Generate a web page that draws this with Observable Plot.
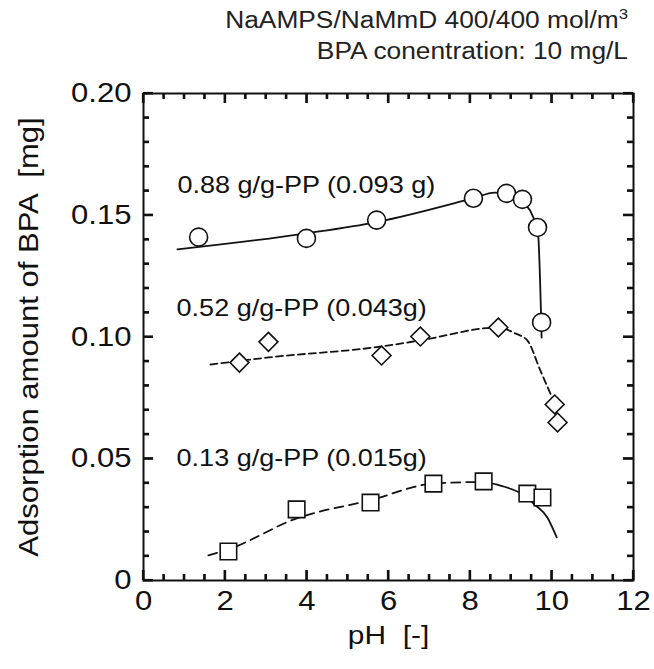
<!DOCTYPE html>
<html><head><meta charset="utf-8">
<script src="https://cdn.jsdelivr.net/npm/d3@7"></script>
<script src="https://cdn.jsdelivr.net/npm/@observablehq/plot@0.6"></script>
<style>
body{margin:0;background:#fff;font-family:"Liberation Sans",Arial,sans-serif;}
#title{width:654px;height:67px;box-sizing:border-box;padding:5px 26px 0 0;text-align:right;font-size:23.5px;line-height:31px;color:#222;}
#title div{transform:scaleX(1.12);transform-origin:right center;}
#title sup{font-size:15px;line-height:0;vertical-align:9px;}
</style></head><body>
<div id="title"><div>NaAMPS/NaMmD 400/400 mol/m<sup>3</sup></div><div>BPA conentration: 10 mg/L</div></div>
<div id="chart"></div>
<script>
// ---- data ----
const circlePH  = [1.35, 3.99, 5.71, 8.08, 8.89, 9.28, 9.65, 9.75];
const circleAds = [0.141, 0.1405, 0.148, 0.157, 0.159, 0.1565, 0.145, 0.106];
const circleFitPH  = [0.83, 4.0, 5.71, 8.08, 8.6, 8.95, 9.3, 9.55, 9.66, 9.75];
const circleFitAds = [0.136, 0.1426, 0.1472, 0.157, 0.1593, 0.159, 0.1555, 0.149, 0.143, 0.0998];

const diamondPH  = [2.35, 3.06, 5.83, 6.78, 8.69, 10.07, 10.14];
const diamondAds = [0.0895, 0.098, 0.0924, 0.1002, 0.1039, 0.0723, 0.0649];
const diamondFitPH  = [1.64, 3.06, 5.83, 6.78, 8.69, 9.1, 9.4, 9.72, 10.04];
const diamondFitAds = [0.0887, 0.0916, 0.0961, 0.0986, 0.1039, 0.1015, 0.0986, 0.0862, 0.0739];

const squarePH  = [2.08, 3.75, 5.56, 7.10, 8.33, 9.40, 9.77];
const squareAds = [0.0119, 0.0292, 0.032, 0.0398, 0.0407, 0.0357, 0.0341];
const squareDashPH  = [1.59, 2.08, 3.75, 5.56, 7.10, 8.33];
const squareDashAds = [0.0103, 0.0128, 0.0255, 0.033, 0.0398, 0.0405];
const squareSolidPH  = [8.33, 8.74, 9.4, 9.55, 9.89, 10.12];
const squareSolidAds = [0.0405, 0.039, 0.034, 0.0316, 0.0259, 0.0177];

const annoLabels = ["0.88 g/g-PP (0.093 g)", "0.52 g/g-PP (0.043g)", "0.13 g/g-PP (0.015g)"];
const annoPH  = [0.83, 0.81, 0.81];
const annoAds = [0.1622, 0.1117, 0.0501];

const xTickValues = [0, 2, 4, 6, 8, 10, 12];
const xTickLabels = ["0", "2", "4", "6", "8", "10", "12"];
const xMinorTicks = [0.5,1,1.5,2.5,3,3.5,4.5,5,5.5,6.5,7,7.5,8.5,9,9.5,10.5,11,11.5];
const yTickValues = [0, 0.05, 0.10, 0.15, 0.20];
const yTickLabels = ["0", "0.05", "0.10", "0.15", "0.20"];
const yMinorTicks = [0.01,0.02,0.03,0.04,0.06,0.07,0.08,0.09,0.11,0.12,0.13,0.14,0.16,0.17,0.18,0.19];
const xLabel = "pH  [-]";
const yLabel = "Adsorption amount of BPA  [mg]";

const ink = "#111";
const font = '"Liberation Sans", Arial, sans-serif';

const W = 654, H = 602, mL = 143, mR = 21, mT = 26, mB = 89;
const xDom = [0, 12], yDom = [0, 0.2];
const fw = W - mL - mR, fh = H - mT - mB;            // frame size in px
const kx = (xDom[1] - xDom[0]) / fw, ky = (yDom[1] - yDom[0]) / fh; // data units per px
const major = 10, minor = 6;                         // inward tick lengths in px
const tw = 1.1;                                      // half tick width in px
const tk = {stroke: ink, strokeWidth: 2};

// inward ticks as thin filled rectangles hugging each frame edge
const ticksX = (vals, len, atTop) => Plot.rect(vals, {
  x1: d => d - tw * kx, x2: d => d + tw * kx,
  y1: atTop ? yDom[1] : yDom[0], y2: atTop ? yDom[1] - len * ky : yDom[0] + len * ky,
  fill: ink
});
const ticksY = (vals, len, atRight) => Plot.rect(vals, {
  y1: d => d - tw * ky, y2: d => d + tw * ky,
  x1: atRight ? xDom[1] : xDom[0], x2: atRight ? xDom[1] - len * kx : xDom[0] + len * kx,
  fill: ink
});

const chart = Plot.plot({
  width: W, height: H,
  marginLeft: mL, marginRight: mR, marginTop: mT, marginBottom: mB,
  style: {fontFamily: font, background: "#fff", color: ink},
  x: {domain: xDom, axis: null},
  y: {domain: yDom, axis: null},
  marks: [
    Plot.frame({stroke: ink, strokeWidth: 2}),
    ticksX(xTickValues, major, false), ticksX(xMinorTicks, minor, false),
    ticksX(xTickValues, major, true),  ticksX(xMinorTicks, minor, true),
    ticksY(yTickValues, major, false), ticksY(yMinorTicks, minor, false),
    ticksY(yTickValues, major, true),  ticksY(yMinorTicks, minor, true),
    // the same ticks again as stroked tick marks (identical position and size)
    Plot.tickX(xTickValues, {x: d => d, insetTop: fh - major, ...tk}),
    Plot.tickX(xMinorTicks, {x: d => d, insetTop: fh - minor, ...tk}),
    Plot.tickX(xTickValues, {x: d => d, insetBottom: fh - major, ...tk}),
    Plot.tickX(xMinorTicks, {x: d => d, insetBottom: fh - minor, ...tk}),
    Plot.tickY(yTickValues, {y: d => d, insetRight: fw - major, ...tk}),
    Plot.tickY(yMinorTicks, {y: d => d, insetRight: fw - minor, ...tk}),
    Plot.tickY(yTickValues, {y: d => d, insetLeft: fw - major, ...tk}),
    Plot.tickY(yMinorTicks, {y: d => d, insetLeft: fw - minor, ...tk}),
    // tick labels
    Plot.text(xTickValues, {x: d => d, text: (d, i) => xTickLabels[i], frameAnchor: "bottom", dy: 29, fontSize: 27, fill: ink}),
    Plot.text(yTickValues, {y: d => d, text: (d, i) => yTickLabels[i], frameAnchor: "left", textAnchor: "end", dx: -12, fontSize: 27, fill: ink}),
    // axis titles
    Plot.text([xLabel], {text: d => d, frameAnchor: "bottom", textAnchor: "middle", dy: 63, fontSize: 26, fill: ink}),
    Plot.text([yLabel], {text: d => d, frameAnchor: "left", textAnchor: "middle", rotate: -90, dx: -114, fontSize: 27, fill: ink}),
    // fitted curves
    Plot.line(circleFitPH, {x: circleFitPH, y: circleFitAds, curve: "monotone-x", stroke: ink, strokeWidth: 1.8}),
    Plot.line(diamondFitPH, {x: diamondFitPH, y: diamondFitAds, curve: "monotone-x", stroke: ink, strokeWidth: 1.8, strokeDasharray: "7,4"}),
    Plot.line(squareDashPH, {x: squareDashPH, y: squareDashAds, curve: "monotone-x", stroke: ink, strokeWidth: 1.8, strokeDasharray: "9,6"}),
    Plot.line(squareSolidPH, {x: squareSolidPH, y: squareSolidAds, curve: "monotone-x", stroke: ink, strokeWidth: 1.8}),
    // data points
    Plot.dot(circlePH, {x: circlePH, y: circleAds, symbol: "circle", r: 9, fill: "white", stroke: ink, strokeWidth: 1.6}),
    Plot.dot(diamondPH, {x: diamondPH, y: diamondAds, symbol: "diamond2", r: 8.5, fill: "white", stroke: ink, strokeWidth: 1.6}),
    Plot.dot(squarePH, {x: squarePH, y: squareAds, symbol: "square", r: 9.3, fill: "white", stroke: ink, strokeWidth: 1.6}),
    // annotations
    Plot.text(annoLabels, {x: annoPH, y: annoAds, text: annoLabels, textAnchor: "start", fontSize: 23.5, fill: ink})
  ]
});
// the reference typeface is wider than Arial: stretch each text along its reading direction
d3.select(chart).selectAll("text").each(function () {
  const t = this.getAttribute("transform") || "";
  this.setAttribute("transform", (t + " scale(1.15,1)").trim());
});
document.getElementById("chart").appendChild(chart);
</script>
</body></html>
